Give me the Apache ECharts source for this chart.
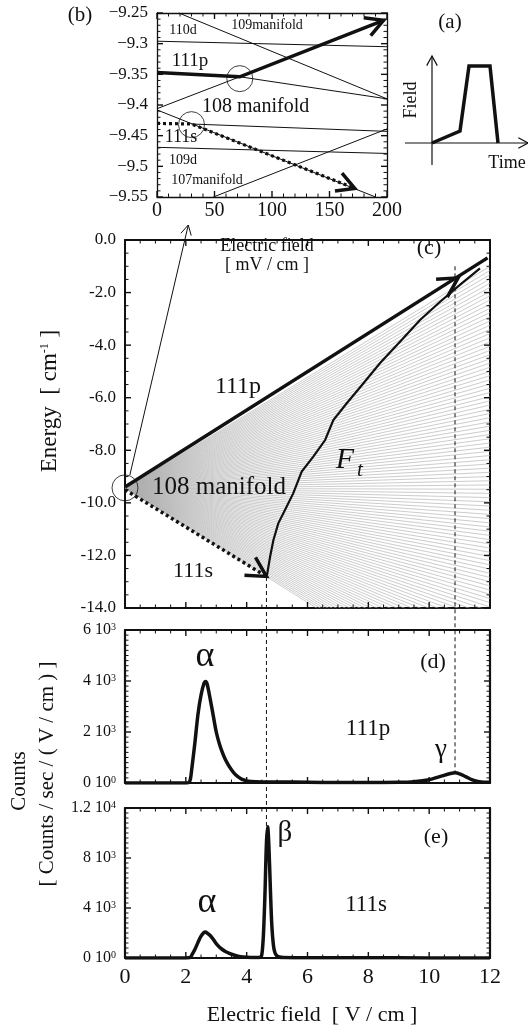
<!DOCTYPE html>
<html>
<head>
<meta charset="utf-8">
<script src="https://cdn.jsdelivr.net/npm/echarts@6/dist/echarts.min.js"></script>
<style>
  html, body { margin: 0; padding: 0; background: #fff; }
  #chart { width: 528px; height: 1031px; }
</style>
</head>
<body>
<div id="chart"></div>
<script>
// ---- values ----

// (b) zoom near zero field: x in mV/cm, energy in cm-1
var b110d = [[0, -9.296], [200, -9.305]];
var b109manifold = [[19, -9.25], [200, -9.39]];
var b111pRest = [[72, -9.354], [200, -9.39]];
var b108up = [[0, -9.406], [72, -9.354]];
var b108down = [[0, -9.408], [190, -9.55]];
var b111sRest = [[30, -9.431], [200, -9.443]];
var b109d = [[0, -9.469], [200, -9.479]];
var b107manifold = [[49, -9.55], [200, -9.439]];
var b111pPath = [[0, -9.347], [72, -9.354], [197, -9.262]];
var b111sPath = [[0, -9.430], [30, -9.431], [172, -9.536]];
var bCrossings = [[72, -9.357], [30, -9.432]];

// (a) field pulse sketch (arbitrary units)
var aTime = [0, 28, 37, 58, 66];
var aField = [0, 12, 77, 77, 0];
var aAxisV = [[0, -22], [0, 87]];
var aAxisH = [[-27, 0], [96, 0]];

// (c) Stark map, field in V/cm, energy in cm-1
var fanStart = [0, -9.45];
// 108 manifold levels, energy reached at 12 V/cm
var fanEnds = [-1.00, -1.16, -1.32, -1.48, -1.64, -1.80, -1.96, -2.12, -2.28, -2.44,
  -2.60, -2.76, -2.92, -3.08, -3.24, -3.40, -3.56, -3.72, -3.88, -4.04,
  -4.20, -4.36, -4.52, -4.68, -4.84, -5.00, -5.16, -5.32, -5.48, -5.64,
  -5.80, -5.96, -6.12, -6.28, -6.44, -6.60, -6.76, -6.92, -7.08, -7.24,
  -7.40, -7.56, -7.72, -7.88, -8.04, -8.20, -8.36, -8.52, -8.68, -8.84,
  -9.00, -9.16, -9.32, -9.48, -9.64, -9.80, -9.96, -10.12, -10.28, -10.44,
  -10.60, -10.76, -10.92, -11.08, -11.24, -11.40, -11.56, -11.72, -11.88, -12.04,
  -12.20, -12.36, -12.52, -12.68, -12.84, -13.00, -13.16, -13.32, -13.48, -13.64,
  -13.80, -13.96, -14.12, -14.28, -14.44, -14.60, -14.76, -14.92, -15.08, -15.24,
  -15.40, -15.56, -15.72, -15.88, -16.04, -16.20, -16.36, -16.52, -16.68, -16.84,
  -17.00, -17.16, -17.32, -17.48, -17.64, -17.80, -17.96, -18.12];
var fanEndField = 12;
var c111p = [[0, -9.40], [11.92, -0.68]];
var c111pArrowTip = [10.95, -1.44];
var c111s = [[0, -9.50], [4.65, -12.80]];
var cFtField = [4.66, 4.77, 4.88, 5.04, 5.26, 5.53, 5.81, 6.19, 6.58, 6.85, 7.29, 7.84, 8.38, 9.04, 9.70, 10.36, 11.01, 11.67];
var cFtEnergy = [-12.81, -12.05, -11.41, -10.78, -10.27, -9.64, -8.81, -8.24, -7.61, -6.85, -6.21, -5.45, -4.69, -3.87, -3.04, -2.35, -1.71, -1.08];
var cOrigin = [[0, -9.43]];
var cPointer = [[0.16, -8.94], [2.08, 0.57]];

// (d) 111p signal
var dField = [0, 1, 2.0, 2.1, 2.15, 2.2, 2.3, 2.4, 2.5, 2.6, 2.65, 2.7, 2.8, 2.9, 3.0, 3.1, 3.2, 3.3, 3.4, 3.5,
  3.6, 3.7, 3.8, 3.9, 4.0, 4.3, 5.0, 6.0, 7.0, 8.0, 9.0, 9.5, 10.0, 10.4, 10.7, 10.85, 11.0, 11.2, 11.4, 11.6, 11.8, 12.0];
var dCounts = [0, 0, 0, 20, 150, 600, 1600, 2700, 3450, 3920, 3980, 3880, 3300, 2650, 2000, 1550, 1200, 920, 700, 520,
  370, 260, 180, 120, 80, 50, 40, 30, 20, 20, 25, 50, 130, 270, 370, 400, 360, 250, 130, 60, 30, 30];
var dTickValues = [0, 2000, 4000, 6000];
var dTickText = [['0', '0'], ['2', '3'], ['4', '3'], ['6', '3']];

// (e) 111s signal
var eField = [0, 2.0, 2.15, 2.2, 2.3, 2.4, 2.5, 2.6, 2.65, 2.7, 2.8, 2.9, 3.0, 3.1, 3.2, 3.3, 3.45, 3.6, 3.8, 4.0,
  4.3, 4.45, 4.5, 4.55, 4.6, 4.65, 4.69, 4.73, 4.78, 4.83, 4.9, 5.0, 5.2, 6.0, 8.0, 10.0, 12.0];
var eCounts = [0, 0, 50, 250, 700, 1250, 1750, 2050, 2080, 2000, 1800, 1500, 1150, 880, 680, 520, 350, 220, 100, 60,
  40, 60, 300, 1800, 5000, 9200, 10500, 9000, 5500, 2500, 700, 150, 40, 20, 20, 10, 0];
var eTickValues = [0, 4000, 8000, 12000];
var eTickText = [['0', '0'], ['4', '3'], ['8', '3'], ['1.2', '4']];

// dashed guides: field, energy in (c), counts where they stop
var guideBeta = [4.65, -12.82, 10500];
var guideGamma = [10.85, -1.0, 390];

// ---- chart ----
var SERIF = 'Liberation Serif';
var INK = '#111';
var chart = echarts.init(document.getElementById('chart'));

function zip(a, b) { return a.map(function (v, i) { return [v, b[i]]; }); }

// frame: axis lines and labels; the inward ticks are drawn by tickS below
function axis(gridIndex, position, min, max, interval, lw, label) {
  return {
    type: 'value', gridIndex: gridIndex, position: position,
    min: min, max: max, interval: interval,
    axisLine: { show: true, onZero: false, lineStyle: { color: INK, width: lw } },
    axisTick: { show: false },
    minorTick: { show: false },
    splitLine: { show: false },
    minorSplitLine: { show: false },
    axisLabel: label ? Object.assign({ show: true, color: INK, fontFamily: SERIF }, label) : { show: false }
  };
}

function powLabel(values, texts, size) {
  return {
    fontSize: size, margin: 9,
    formatter: function (v) {
      var i = values.indexOf(Math.round(v));
      if (i < 0) return '';
      return '{m|' + texts[i][0] + ' 10}{s|' + texts[i][1] + '}';
    },
    rich: {
      m: { fontFamily: SERIF, fontSize: size, color: INK },
      s: { fontFamily: SERIF, fontSize: 10, color: INK, verticalAlign: 'top' }
    }
  };
}

// inward tick marks on all four sides of a grid
function tickS(idx, xr, yr) {
  var data = [];
  function add(dim, r) {
    var n = Math.round((r[1] - r[0]) / r[3]);
    for (var i = 0; i <= n; i++) {
      var v = r[0] + i * r[3];
      var k = (v - r[0]) / r[2];
      data.push([dim, v, Math.abs(k - Math.round(k)) < 1e-6 ? 1 : 0]);
    }
  }
  add(0, xr); add(1, yr);
  return {
    type: 'custom', xAxisIndex: idx, yAxisIndex: idx, clip: false, silent: true, z: 7,
    data: data,
    encode: { x: -1, y: -1 },
    renderItem: function (params, api) {
      var dim = api.value(0), v = api.value(1), major = api.value(2);
      var len = major ? 6 : 3.5;
      var a, b, pts;
      if (dim === 0) {
        a = api.coord([v, yr[0]]); b = api.coord([v, yr[1]]);
        pts = [[a[0], a[1], a[0], a[1] - len], [b[0], b[1], b[0], b[1] + len]];
      } else {
        a = api.coord([xr[0], v]); b = api.coord([xr[1], v]);
        pts = [[a[0], a[1], a[0] + len, a[1]], [b[0], b[1], b[0] - len, b[1]]];
      }
      return {
        type: 'group',
        children: pts.map(function (p) {
          return {
            type: 'line', shape: { x1: p[0], y1: p[1], x2: p[2], y2: p[3] },
            style: { stroke: INK, lineWidth: major ? 1.4 : 1 }
          };
        })
      };
    }
  };
}

function lineS(data, xi, yi, width, type) {
  return {
    type: 'line', xAxisIndex: xi, yAxisIndex: yi, data: data,
    showSymbol: false, symbol: 'none', silent: true, clip: false, z: 3,
    lineStyle: { color: INK, width: width, type: type || 'solid', cap: 'butt', join: 'miter' }
  };
}

// open chevron heads drawn at the end of each segment
function arrowS(segs, xi, yi, len, width) {
  return {
    type: 'custom', xAxisIndex: xi, yAxisIndex: yi, clip: false, silent: true, z: 6,
    data: segs.map(function (s) { return [s[0][0], s[0][1], s[1][0], s[1][1]]; }),
    encode: { x: [0, 2], y: [1, 3] },
    renderItem: function (params, api) {
      var p0 = api.coord([api.value(0), api.value(1)]);
      var p1 = api.coord([api.value(2), api.value(3)]);
      var dx = p1[0] - p0[0], dy = p1[1] - p0[1];
      var d = Math.sqrt(dx * dx + dy * dy);
      var bx = -dx / d, by = -dy / d;
      var c = Math.cos(0.5), s = Math.sin(0.5);
      var l1 = [p1[0] + len * (bx * c - by * s), p1[1] + len * (bx * s + by * c)];
      var l2 = [p1[0] + len * (bx * c + by * s), p1[1] + len * (-bx * s + by * c)];
      return {
        type: 'polyline', shape: { points: [l1, p1, l2] },
        style: { stroke: INK, lineWidth: width, fill: null, lineJoin: 'miter' }
      };
    }
  };
}

function lastSeg(p) { return [p[p.length - 2], p[p.length - 1]]; }

var series = [];
// (b)
[b110d, b109manifold, b111pRest, b108up, b108down, b111sRest, b109d, b107manifold].forEach(function (l) {
  series.push(lineS(l, 0, 0, 1));
});
series.push(lineS(b111pPath, 0, 0, 3.5));
series.push(lineS(b111sPath, 0, 0, 3.2, [3, 3]));
series.push(arrowS([lastSeg(b111pPath), lastSeg(b111sPath)], 0, 0, 20, 3.5));
series.push({
  type: 'scatter', xAxisIndex: 0, yAxisIndex: 0, data: bCrossings, symbol: 'circle', symbolSize: 26,
  clip: false, silent: true, z: 4, itemStyle: { color: 'rgba(0,0,0,0)', borderColor: INK, borderWidth: 1 }
});
// (c)
series.push({
  type: 'lines', coordinateSystem: 'cartesian2d', xAxisIndex: 1, yAxisIndex: 1,
  clip: true, silent: true, z: 1,
  lineStyle: { color: '#b0b0b0', width: 0.65, opacity: 1 },
  data: fanEnds.map(function (e) { return { coords: [fanStart, [fanEndField, e]] }; })
});
series.push(lineS(c111p, 1, 1, 3.5));
series.push(lineS(c111s, 1, 1, 3.5, [3, 3]));
series.push(lineS(zip(cFtField, cFtEnergy), 1, 1, 2.2));
series.push(lineS(cPointer, 1, 1, 1));
series.push(arrowS([[c111p[0], c111pArrowTip], lastSeg(c111s)], 1, 1, 22, 3.5));
series.push(arrowS([lastSeg(cPointer)], 1, 1, 11, 1));
series.push({
  type: 'scatter', xAxisIndex: 1, yAxisIndex: 1, data: cOrigin, symbol: 'circle', symbolSize: 26,
  clip: false, silent: true, z: 4, itemStyle: { color: 'rgba(0,0,0,0)', borderColor: INK, borderWidth: 1 }
});
// (d), (e)
series.push(Object.assign(lineS(zip(dField, dCounts), 2, 2, 3.5), { clip: true, smooth: 0.3 }));
series.push(Object.assign(lineS(zip(eField, eCounts), 3, 3, 3.5), { clip: true, smooth: 0.3 }));
// (a)
series.push(lineS(aAxisV, 4, 4, 1.2));
series.push(lineS(aAxisH, 4, 4, 1.2));
series.push(lineS(zip(aTime, aField), 4, 4, 3.5));
series.push(arrowS([aAxisV, aAxisH], 4, 4, 11, 1.2));
// ticks: [min, max, major step, minor step]
series.push(tickS(0, [0, 200, 50, 10], [-9.55, -9.25, 0.05, 0.01]));
series.push(tickS(1, [0, 12, 2, 0.5], [-14, 0, 2, 0.5]));
series.push(tickS(2, [0, 12, 2, 0.5], [0, 6000, 2000, 200]));
series.push(tickS(3, [0, 12, 2, 0.5], [0, 12000, 4000, 400]));

var option = {
  animation: false,
  backgroundColor: '#fff',
  grid: [
    { left: 157, top: 13, width: 230, height: 184 },
    { left: 125, top: 240, width: 365, height: 368 },
    { left: 125, top: 630, width: 365, height: 153 },
    { left: 125, top: 808, width: 365, height: 150 },
    { left: 405, top: 55, width: 123, height: 110 }
  ],
  xAxis: [
    axis(0, 'bottom', 0, 200, 50, 1.3, { fontSize: 20, margin: 4 }),
    axis(1, 'bottom', 0, 12, 2, 2, null),
    axis(2, 'bottom', 0, 12, 2, 2, null),
    axis(3, 'bottom', 0, 12, 2, 2, { fontSize: 22, margin: 8 }),
    { type: 'value', gridIndex: 4, min: -27, max: 96, show: false },
    axis(0, 'top', 0, 200, 50, 1.3, null),
    axis(1, 'top', 0, 12, 2, 2, null),
    axis(2, 'top', 0, 12, 2, 2, null),
    axis(3, 'top', 0, 12, 2, 2, null)
  ],
  yAxis: [
    axis(0, 'left', -9.55, -9.25, 0.05, 1.3, {
      fontSize: 17, margin: 9,
      formatter: function (v) { return '\u2212' + Math.abs(v).toFixed(2).replace(/0$/, ''); }
    }),
    axis(1, 'left', -14, 0, 2, 2, {
      fontSize: 17, margin: 9,
      formatter: function (v) { return v.toFixed(1); }
    }),
    axis(2, 'left', 0, 6000, 2000, 2.2, powLabel(dTickValues, dTickText, 16)),
    axis(3, 'left', 0, 12000, 4000, 2.2, powLabel(eTickValues, eTickText, 16)),
    { type: 'value', gridIndex: 4, min: -22, max: 88, show: false },
    axis(0, 'right', -9.55, -9.25, 0.05, 1.3, null),
    axis(1, 'right', -14, 0, 2, 2, null),
    axis(2, 'right', 0, 6000, 2000, 2.2, null),
    axis(3, 'right', 0, 12000, 4000, 2.2, null)
  ],
  series: series
};
chart.setOption(option);

function txt(x, y, text, size, extra) {
  return Object.assign({
    type: 'text', x: x, y: y, z: 20, silent: true,
    style: Object.assign({
      text: text, x: 0, y: 0, fontFamily: SERIF, fontSize: size, fill: INK,
      align: 'center', verticalAlign: 'middle'
    }, extra || {})
  });
}

var texts = [
  txt(80, 15, '(b)', 21),
  txt(183, 30, '110d', 14),
  txt(267, 25, '109manifold', 14),
  txt(190, 61, '111p', 19),
  txt(202, 107, '108 manifold', 20, { align: 'left' }),
  txt(181, 137, '111s', 18),
  txt(183, 160, '109d', 14),
  txt(207, 180, '107manifold', 14),
  txt(450, 22, '(a)', 21),
  Object.assign(txt(411, 100, 'Field', 18), { rotation: Math.PI / 2 }),
  txt(507, 163, 'Time', 18),
  txt(267, 246, 'Electric field', 18),
  txt(267, 265, '[ mV / cm ]', 18),
  txt(429, 248, '(c)', 22),
  txt(238, 387, '111p', 24),
  txt(219, 487, '108 manifold', 25),
  txt(345, 460, 'F', 30, { fontStyle: 'italic' }),
  txt(360, 470, 't', 21, { fontStyle: 'italic' }),
  txt(193, 571, '111s', 22),
  Object.assign(txt(50, 401, '{t|Energy  [ cm}{s|-1}{t| ]}', 23, {
    rich: {
      t: { fontFamily: SERIF, fontSize: 23, fill: INK },
      s: { fontFamily: SERIF, fontSize: 12, fill: INK, verticalAlign: 'top' }
    }
  }), { rotation: Math.PI / 2 }),
  txt(433, 662, '(d)', 22),
  txt(205, 657, '\u03b1', 36),
  txt(368, 729, '111p', 23),
  txt(441, 750, '\u03b3', 27),
  txt(436, 837, '(e)', 22),
  txt(285, 833, '\u03b2', 29),
  txt(207, 903, '\u03b1', 36),
  txt(366, 905, '111s', 23),
  Object.assign(txt(19, 781, 'Counts', 21), { rotation: Math.PI / 2 }),
  Object.assign(txt(47, 774, '[ Counts / sec / ( V / cm ) ]', 21), { rotation: Math.PI / 2 }),
  txt(312, 1015, 'Electric field  [ V / cm ]', 22)
];

function guide(g, lowerAxis) {
  var top = chart.convertToPixel({ xAxisIndex: 1, yAxisIndex: 1 }, [g[0], g[1]]);
  var bottom = chart.convertToPixel({ xAxisIndex: lowerAxis, yAxisIndex: lowerAxis }, [g[0], g[2]]);
  return {
    type: 'line', z: 10, silent: true,
    shape: { x1: top[0], y1: top[1], x2: bottom[0], y2: bottom[1] },
    style: { stroke: INK, lineWidth: 1, lineDash: [4, 3] }
  };
}

chart.setOption({ graphic: texts.concat([guide(guideBeta, 3), guide(guideGamma, 2)]) });
</script>
</body>
</html>
